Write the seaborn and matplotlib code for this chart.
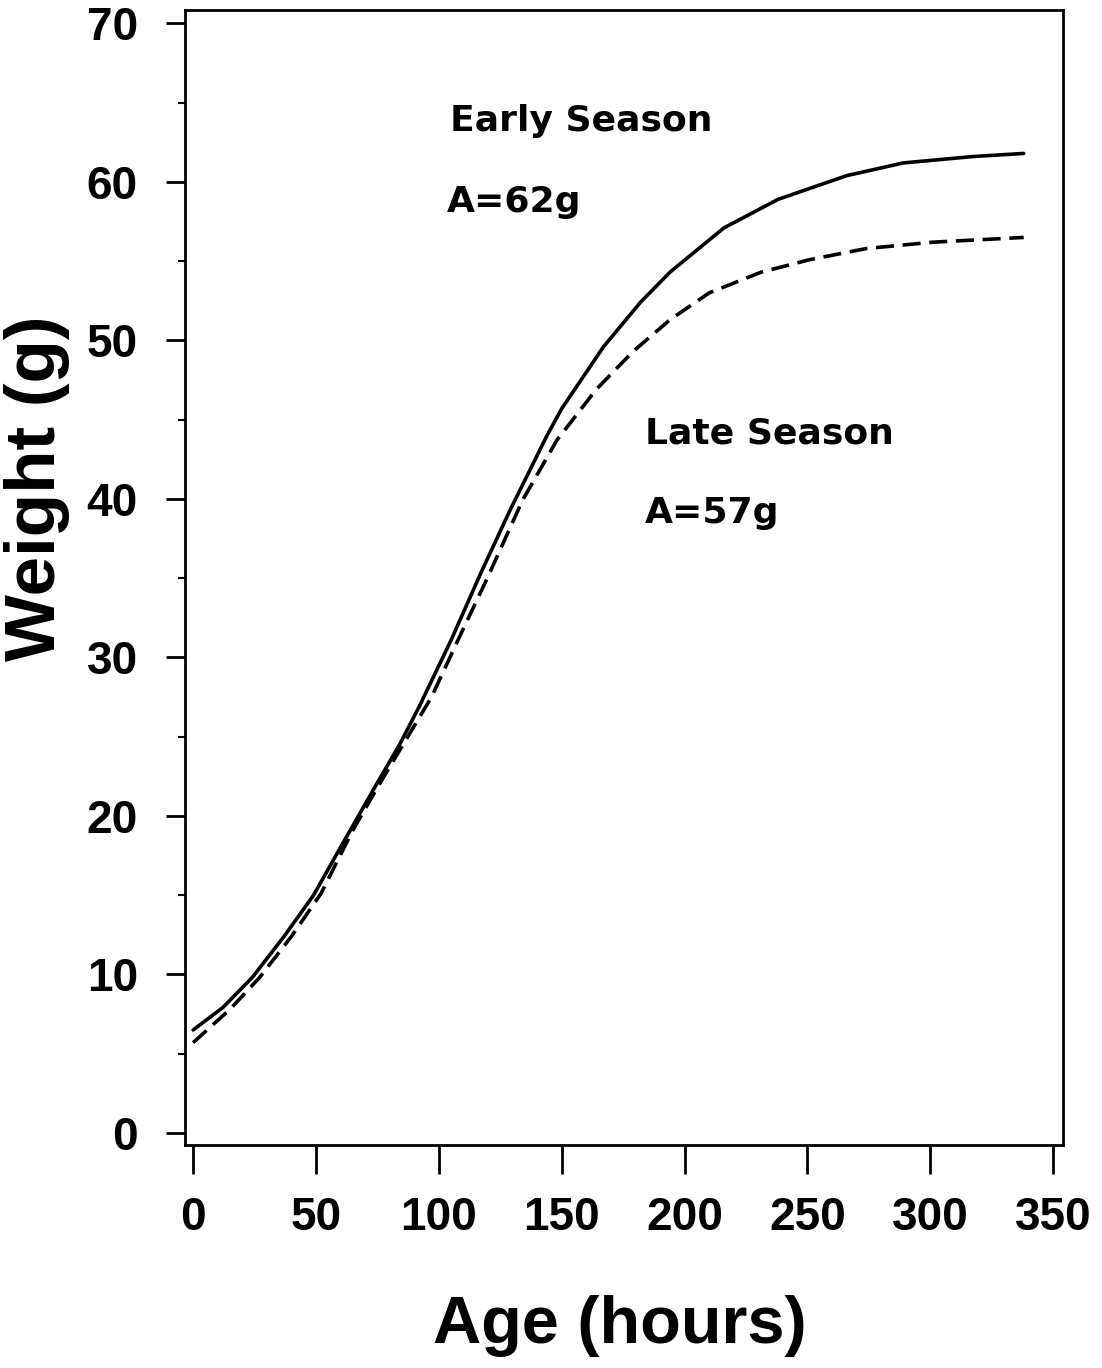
"""
Growth curves: weight vs age, early and late season.
"""

import matplotlib
matplotlib.use('Agg')
import matplotlib.pyplot as plt
from matplotlib.ticker import MultipleLocator
import seaborn as sns
import pandas as pd

# values
early_age = [0, 12, 24, 37, 49, 61, 75, 84, 92, 105, 117, 129, 144, 150,
             167, 182, 194, 216, 238, 266, 289, 317, 338]
early_weight = [6.5, 7.9, 9.8, 12.4, 15.0, 18.3, 22.1, 24.5, 26.9, 31.1, 35.3,
                39.3, 44.0, 45.7, 49.6, 52.4, 54.3, 57.1, 58.9, 60.4, 61.2,
                61.6, 61.8]

late_age = [0, 15, 27, 40, 52, 65, 75, 97, 109, 120, 134, 148, 164, 179,
            194, 210, 231, 251, 274, 301, 338]
late_weight = [5.7, 7.8, 9.8, 12.4, 15.1, 19.1, 21.8, 27.5, 31.5, 35.1, 39.9,
               43.7, 46.9, 49.3, 51.3, 53.0, 54.3, 55.1, 55.8, 56.2, 56.5]

x_ticks = [0, 50, 100, 150, 200, 250, 300, 350]
y_ticks = [0, 10, 20, 30, 40, 50, 60, 70]

early = pd.DataFrame({'age': early_age, 'weight': early_weight})
late = pd.DataFrame({'age': late_age, 'weight': late_weight})

sns.set_style('ticks')
plt.rcParams['font.family'] = ['Liberation Sans', 'DejaVu Sans']
plt.rcParams['text.color'] = 'black'
plt.rcParams['axes.labelcolor'] = 'black'

fig = plt.figure(figsize=(11.02, 13.68), dpi=100)
ax = fig.add_axes([0.1679, 0.1630, 0.7967, 0.8297])

sns.lineplot(data=early, x='age', y='weight', color='black', linewidth=2.6,
             ax=ax, estimator=None, sort=False)
sns.lineplot(data=late, x='age', y='weight', color='black', linewidth=2.6,
             linestyle=(0, (5, 2.4)), ax=ax, estimator=None, sort=False)

ax.set_xlim(-3.3, 354)
ax.set_ylim(-0.76, 70.85)
ax.set_xticks(x_ticks)
ax.set_yticks(y_ticks)
ax.yaxis.set_minor_locator(MultipleLocator(5))

for s in ax.spines.values():
    s.set_visible(True)
    s.set_linewidth(2)
    s.set_color('black')

ax.tick_params(axis='x', direction='out', length=21, width=2, pad=16,
               labelsize=33, colors='black')
ax.tick_params(axis='y', which='major', direction='out', length=14, width=2,
               pad=20, labelsize=33, colors='black')
ax.tick_params(axis='y', which='minor', direction='out', length=5, width=1.5,
               colors='black')
for lab in ax.get_xticklabels() + ax.get_yticklabels():
    lab.set_fontweight('bold')

ax.set_xlabel('Age (hours)', fontsize=48, fontweight='bold', color='black')
ax.set_ylabel('Weight (g)', fontsize=51, fontweight='bold', color='black')
ax.xaxis.set_label_coords(0.4954, -0.132)
ax.yaxis.set_label_coords(-0.131, 0.579)

note = dict(fontsize=26, family=['DejaVu Sans'], fontweight='bold',
            color='black', va='baseline', ha='left')
ax.text(104.6, 63.2, 'Early Season', **note)
ax.text(103.4, 58.1, 'A=62g', **note)
ax.text(184, 43.5, 'Late Season', **note)
ax.text(184, 38.5, 'A=57g', **note)

fig.savefig('out.png', dpi=100)
plt.close(fig)
